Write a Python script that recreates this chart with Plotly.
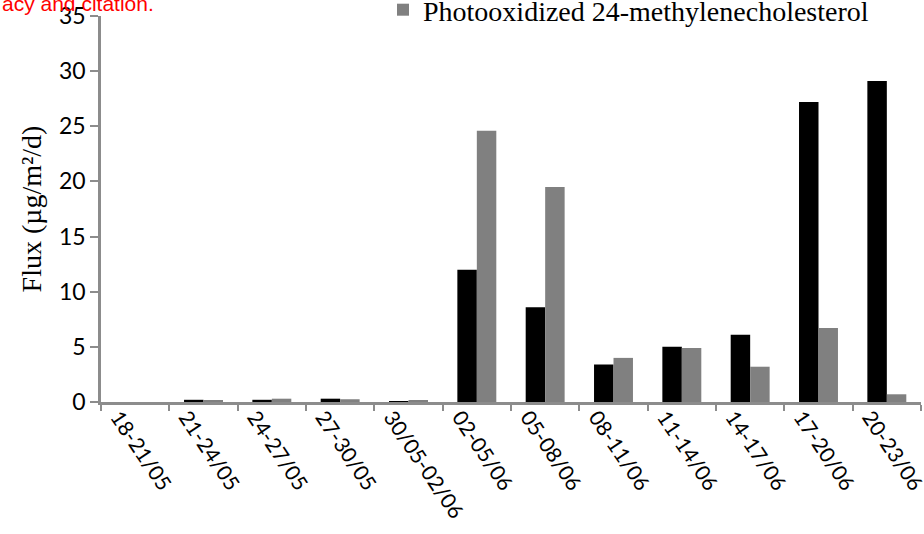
import plotly.graph_objects as go

periods = ["18-21/05", "21-24/05", "24-27/05", "27-30/05", "30/05-02/06",
           "02-05/06", "05-08/06", "08-11/06", "11-14/06", "14-17/06",
           "17-20/06", "20-23/06"]
sterol_flux = [0.0, 0.2, 0.2, 0.3, 0.05, 12.0, 8.6, 3.4, 5.0, 6.1, 27.2, 29.1]
photoox_flux = [0.0, 0.1, 0.3, 0.25, 0.1, 24.6, 19.5, 4.0, 4.9, 3.2, 6.7, 0.7]
y_ticks = [0, 5, 10, 15, 20, 25, 30, 35]

W, H = 924, 534
L, R, T, B = 101, 3, 16, 132
pw, ph = W - L - R, H - T - B

axis_grey = "#8c8c8c"

fig = go.Figure()
fig.add_trace(go.Bar(x=periods, y=sterol_flux, name="24-methylenecholesterol",
                     marker=dict(color="#000000", line=dict(width=0)),
                     showlegend=False))
fig.add_trace(go.Bar(x=periods, y=photoox_flux,
                     name="Photooxidized 24-methylenecholesterol",
                     marker=dict(color="#808080", line=dict(width=0))))

fig.update_layout(
    width=W, height=H,
    margin=dict(l=L, r=R, t=T, b=B, autoexpand=False),
    paper_bgcolor="white", plot_bgcolor="white",
    barmode="group", bargap=0.43, bargroupgap=0.0,
    legend=dict(x=(383 - L) / pw, y=1 + (T + 15) / ph, xanchor="left", yanchor="top",
                font=dict(family="Liberation Serif", size=28, color="#000000"),
                bgcolor="rgba(0,0,0,0)"),
    xaxis=dict(
        type="category", tickangle=56, tickson="boundaries",
        ticks="outside", ticklen=6, tickwidth=2, tickcolor=axis_grey,
        showline=True, linecolor=axis_grey, linewidth=2.5,
        showgrid=False, zeroline=False, automargin=False,
        ticklabelshift=-17, ticklabelstandoff=-8,
        tickfont=dict(family="Lato", size=21, color="#000000"),
    ),
    yaxis=dict(
        range=[0, 35], tickvals=y_ticks,
        ticks="outside", ticklen=8, tickwidth=2, tickcolor=axis_grey,
        showline=True, linecolor=axis_grey, linewidth=2.5,
        showgrid=False, zeroline=False, automargin=False,
        tickfont=dict(family="Lato", size=23, color="#000000"),
        title=dict(text="Flux (µg/m²/d)", standoff=10,
                   font=dict(family="Liberation Serif", size=28, color="#000000")),
    ),
    annotations=[dict(
        text="acy and citation.", xref="paper", yref="paper",
        x=-L / pw, y=1 + (T - 17) / ph, xanchor="left", yanchor="bottom",
        showarrow=False, font=dict(family="Liberation Sans", size=21, color="#ff0000"),
    )],
)

fig.write_html("out.html")
